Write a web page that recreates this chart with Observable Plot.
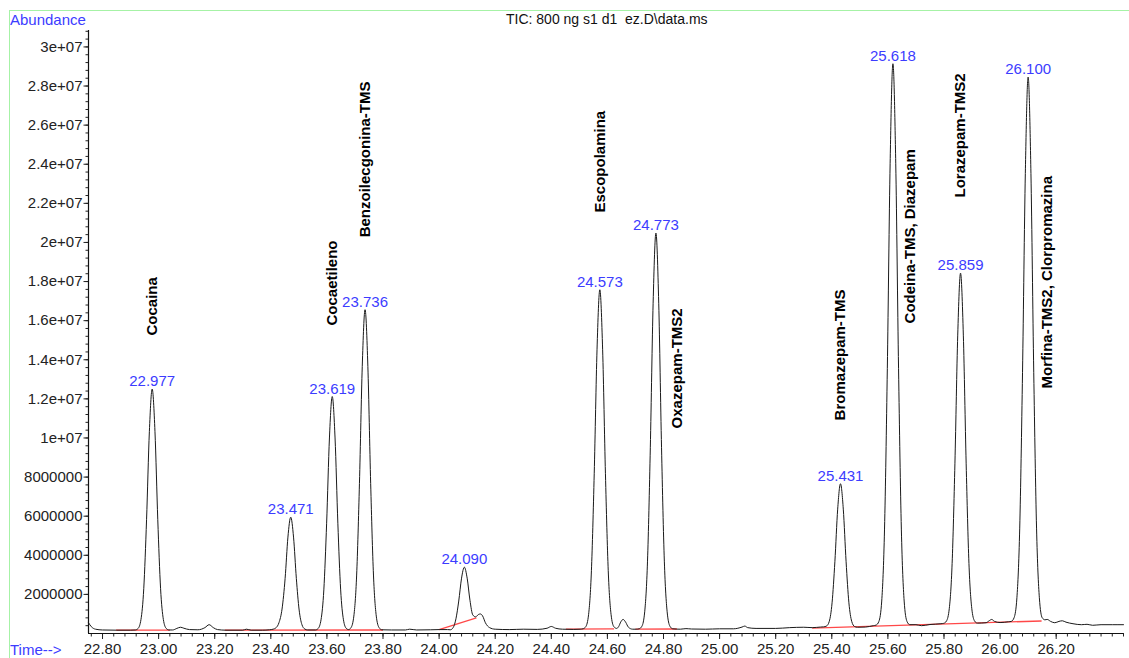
<!DOCTYPE html>
<html>
<head>
<meta charset="utf-8">
<script src="https://cdn.jsdelivr.net/npm/d3@7"></script>
<script src="https://cdn.jsdelivr.net/npm/@observablehq/plot@0.6"></script>
<style>
  html, body { margin: 0; padding: 0; background: #fff; }
  #wrap { position: relative; width: 1129px; height: 658px; overflow: hidden; font-family: "Liberation Sans", Arial, Helvetica, sans-serif; }
  #frame { position: absolute; left: 9px; top: 10px; width: 1200px; height: 700px; border: 1px solid #a6f2a6; box-sizing: border-box; }
  .lbl { position: absolute; white-space: pre; }
  #chart { position: absolute; left: 0; top: 0; }
</style>
</head>
<body>
<div id="wrap">
  <div id="frame"></div>
  <div id="chart"></div>
  <div class="lbl" style="left:10px; top:11px; font-size:15px; color:#3c3cff;">Abundance</div>
  <div class="lbl" style="left:506px; top:11px; font-size:14px; color:#111;">TIC: 800 ng s1 d1  ez.D\data.ms</div>
  <div class="lbl" style="left:10px; top:641px; font-size:15px; color:#3c3cff;">Time--&gt;</div>
</div>
<script>
// ---- data (abundance in millions of counts, time in minutes) ----
const xTicks = [22.8, 23.0, 23.2, 23.4, 23.6, 23.8, 24.0, 24.2, 24.4, 24.6, 24.8, 25.0, 25.2, 25.4, 25.6, 25.8, 26.0, 26.2];
const xMinorTicks = d3.range(22.76, 26.45, 0.04).map(v => +v.toFixed(2));
const yTicks = [2, 4, 6, 8, 10, 12, 14, 16, 18, 20, 22, 24, 26, 28, 30];
const yMinorTicks = d3.range(0.4, 30.9, 0.4).map(v => +v.toFixed(1));

const peakTimes   = [22.977, 23.471, 23.619, 23.736, 24.090, 24.573, 24.773, 25.431, 25.618, 25.859, 26.100];
const peakHeights = [12.5, 5.95, 12.12, 16.56, 3.39, 17.58, 20.48, 7.66, 29.14, 18.43, 28.46];

const compoundNames   = ["Cocaina", "Cocaetileno", "Benzoilecgonina-TMS", "Escopolamina", "Oxazepam-TMS2",
                         "Bromazepam-TMS", "Codeina-TMS, Diazepam", "Lorazepam-TMS2", "Morfina-TMS2, Clorpromazina"];
const compoundTimes   = [22.977, 23.619, 23.736, 24.573, 24.850, 25.431, 25.680, 25.859, 26.168];
const compoundBottoms = [15.24, 15.75, 20.26, 21.53, 10.49, 10.90, 15.86, 22.30, 12.53];

// integration baselines (red): start time, start value, end time, end value
const baseStartT = [22.848, 23.236, 24.000, 24.452, 24.700, 25.330];
const baseStartV = [0.17, 0.17, 0.20, 0.22, 0.22, 0.28];
const baseEndT   = [23.040, 23.800, 24.133, 24.624, 24.848, 26.148];
const baseEndV   = [0.17, 0.18, 0.80, 0.24, 0.23, 0.64];

// TIC trace: [time, abundance]
const tracePoints = [
  [22.750, 0.55], [22.760, 0.35], [22.775, 0.22], [22.800, 0.18], [22.850, 0.17], [22.900, 0.17],
  [22.917, 0.18], [22.927, 0.26], [22.937, 0.71], [22.947, 2.29], [22.957, 5.82], [22.967, 10.32],
  [22.977, 12.50], [22.987, 10.32], [22.997, 5.82], [23.007, 2.29], [23.017, 0.71], [23.027, 0.26],
  [23.037, 0.18], [23.050, 0.18], [23.065, 0.26], [23.078, 0.32], [23.090, 0.27], [23.110, 0.20],
  [23.140, 0.19], [23.165, 0.30], [23.180, 0.45], [23.195, 0.30], [23.210, 0.20], [23.240, 0.17],
  [23.300, 0.17], [23.313, 0.22], [23.330, 0.17], [23.370, 0.17], [23.395, 0.19],
  [23.408, 0.22], [23.419, 0.30], [23.429, 0.55], [23.440, 1.25], [23.451, 2.82], [23.461, 4.93],
  [23.471, 5.95], [23.481, 4.93], [23.491, 2.82], [23.501, 1.20], [23.511, 0.45], [23.521, 0.23],
  [23.531, 0.18], [23.559, 0.18], [23.569, 0.26], [23.579, 0.70], [23.589, 2.23], [23.599, 5.64],
  [23.609, 10.00], [23.619, 12.12], [23.629, 10.00], [23.639, 5.64], [23.649, 2.23], [23.659, 0.70],
  [23.669, 0.26], [23.677, 0.20], [23.686, 0.30], [23.696, 0.89], [23.706, 2.99], [23.716, 7.68],
  [23.726, 13.66], [23.736, 16.56], [23.746, 13.66], [23.756, 7.68], [23.766, 2.99], [23.776, 0.89],
  [23.786, 0.30], [23.796, 0.19], [23.830, 0.18], [23.880, 0.18], [23.895, 0.22], [23.920, 0.18],
  [23.970, 0.19], [24.000, 0.20], [24.030, 0.20], [24.040, 0.19], [24.050, 0.30], [24.060, 0.75],
  [24.070, 1.66], [24.080, 2.83], [24.090, 3.39], [24.100, 2.83], [24.110, 1.70], [24.120, 0.95],
  [24.130, 0.85], [24.140, 0.97], [24.147, 1.00], [24.155, 0.90], [24.165, 0.55], [24.180, 0.30],
  [24.200, 0.22], [24.250, 0.20], [24.300, 0.22], [24.350, 0.21], [24.385, 0.27], [24.400, 0.36],
  [24.415, 0.27], [24.440, 0.22], [24.480, 0.21], [24.503, 0.22],
  [24.513, 0.24], [24.523, 0.35], [24.533, 0.98], [24.543, 3.21], [24.553, 8.17], [24.563, 14.51],
  [24.573, 17.58], [24.583, 14.51], [24.593, 8.17], [24.603, 3.21], [24.613, 0.98], [24.623, 0.35],
  [24.633, 0.26], [24.640, 0.35], [24.648, 0.60], [24.656, 0.72], [24.665, 0.58], [24.675, 0.32],
  [24.690, 0.22], [24.703, 0.22],
  [24.713, 0.24], [24.723, 0.37], [24.733, 1.11], [24.743, 3.70], [24.753, 9.50], [24.763, 16.89],
  [24.773, 20.48], [24.783, 16.89], [24.793, 9.50], [24.803, 3.70], [24.813, 1.11], [24.823, 0.37],
  [24.833, 0.24], [24.860, 0.22], [24.880, 0.25], [24.900, 0.23], [24.950, 0.22], [25.000, 0.24],
  [25.050, 0.24], [25.080, 0.33], [25.090, 0.38], [25.100, 0.30], [25.130, 0.26], [25.200, 0.26],
  [25.250, 0.30], [25.300, 0.32], [25.330, 0.30], [25.360, 0.33],
  [25.371, 0.34], [25.381, 0.38], [25.391, 0.62], [25.401, 1.57], [25.411, 3.67], [25.421, 6.36],
  [25.431, 7.66], [25.441, 6.36], [25.451, 3.67], [25.461, 1.57], [25.471, 0.62], [25.481, 0.36],
  [25.491, 0.32], [25.520, 0.33], [25.548, 0.40],
  [25.558, 0.43], [25.568, 0.62], [25.578, 1.66], [25.588, 5.34], [25.598, 13.56], [25.608, 24.05],
  [25.618, 29.14], [25.628, 24.05], [25.638, 13.56], [25.648, 5.34], [25.658, 1.66], [25.668, 0.62],
  [25.678, 0.45], [25.700, 0.45], [25.720, 0.40], [25.750, 0.46], [25.789, 0.50],
  [25.799, 0.52], [25.809, 0.64], [25.819, 1.29], [25.829, 3.58], [25.839, 8.71], [25.849, 15.26],
  [25.859, 18.43], [25.869, 15.26], [25.879, 8.71], [25.889, 3.58], [25.899, 1.29], [25.909, 0.64],
  [25.919, 0.53], [25.950, 0.55], [25.962, 0.66], [25.970, 0.72], [25.980, 0.62], [26.000, 0.56],
  [26.030, 0.60],
  [26.040, 0.62], [26.050, 0.81], [26.060, 1.83], [26.070, 5.39], [26.080, 13.36], [26.090, 23.53],
  [26.100, 28.46], [26.110, 23.53], [26.120, 13.36], [26.130, 5.39], [26.140, 1.83], [26.150, 0.81],
  [26.160, 0.70], [26.168, 0.72], [26.180, 0.62], [26.195, 0.55], [26.210, 0.62], [26.222, 0.65],
  [26.235, 0.58], [26.260, 0.50], [26.290, 0.45], [26.310, 0.47], [26.330, 0.42], [26.360, 0.45],
  [26.400, 0.45], [26.440, 0.45]
];

// ---- tables built from the arrays ----
const trace = tracePoints.map(([t, v]) => ({t, v}));
const peaks = peakTimes.map((t, i) => ({t, h: peakHeights[i]}));
const compounds = compoundNames.map((name, i) => ({name, t: compoundTimes[i], y: compoundBottoms[i]}));
const baselines = baseStartT.map((t, i) => ({x1: t, y1: baseStartV[i], x2: baseEndT[i], y2: baseEndV[i]}));

const yFmt = d => d >= 10 ? (+(d / 10).toFixed(1)) + "e+07" : String(Math.round(d * 1e6));
const font = "Liberation Sans, Arial, Helvetica, sans-serif";

const chart = Plot.plot({
  width: 1129,
  height: 658,
  marginLeft: 88,
  marginRight: 6,
  marginTop: 30,
  marginBottom: 25,
  x: {domain: [22.75, 26.44]},
  y: {domain: [0, 30.84]},
  style: {fontFamily: font, fontSize: "15px", background: "transparent", color: "#222", overflow: "visible"},
  marks: [
    Plot.axisY({ticks: yMinorTicks, tickSize: 2.5, tickFormat: () => "", label: null, stroke: "#222"}),
    Plot.axisY({ticks: yTicks, tickSize: 4.5, tickPadding: 1.5, tickFormat: yFmt, label: null, fontSize: 15, fill: "#222"}),
    Plot.axisX({ticks: xMinorTicks, tickSize: 3.5, tickFormat: () => "", label: null, stroke: "#222"}),
    Plot.axisX({ticks: xTicks, tickSize: 6, tickPadding: 4, tickFormat: d => d.toFixed(2), label: null, fontSize: 15, fill: "#222"}),
    Plot.ruleX([22.75], {stroke: "#111", strokeWidth: 1.2}),
    Plot.ruleY([0], {stroke: "#111", strokeWidth: 1.2}),
    Plot.link(baselines, {x1: "x1", y1: "y1", x2: "x2", y2: "y2", stroke: "#ff1a1a", strokeWidth: 1.3, strokeOpacity: 0.8}),
    Plot.line(trace, {x: "t", y: "v", curve: "monotone-x", stroke: "#1a1a1a", strokeWidth: 1}),
    Plot.text(peaks, {x: "t", y: "h", text: d => d.t.toFixed(3), fill: "#3c3cff", fontSize: 15, lineAnchor: "bottom", dy: -3}),
    Plot.text(compounds, {x: "t", y: "y", text: "name", rotate: -90, textAnchor: "start", lineAnchor: "middle",
      fontWeight: "bold", fontSize: 15, fill: "#000"})
  ]
});
document.getElementById("chart").appendChild(chart);
</script>
</body>
</html>
